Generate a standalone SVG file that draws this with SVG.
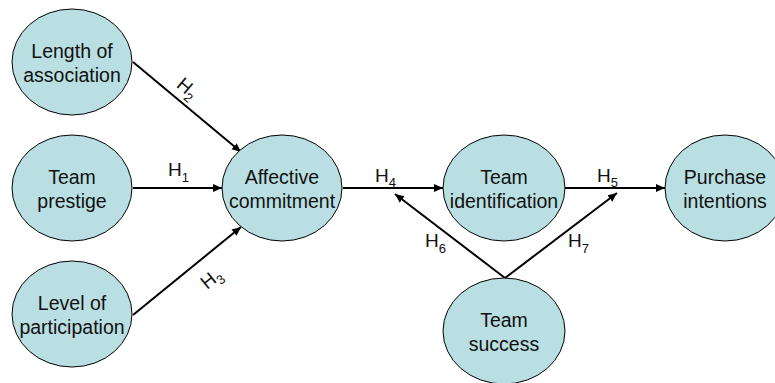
<svg xmlns="http://www.w3.org/2000/svg" width="775" height="383" viewBox="0 0 775 383">
  <defs>
    <marker id="arrow" markerUnits="userSpaceOnUse" markerWidth="10" markerHeight="10" refX="9" refY="5" orient="auto">
      <path d="M0,1 L9,5 L0,9 Z" fill="#000"/>
    </marker>
  </defs>
  <style>
    .node ellipse { fill: #B9DFE2; stroke: #000; stroke-width: 1; }
    .node text { font-family: "Liberation Sans", Arial, sans-serif; font-size: 19.5px; fill: #111; text-anchor: middle; }
    .edge { stroke: #000; stroke-width: 2; fill: none; marker-end: url(#arrow); }
    .lbl { font-family: "Liberation Sans", Arial, sans-serif; font-size: 19px; fill: #111; }
    .sub { font-size: 13px; }
  </style>
  <rect width="775" height="383" fill="#fff"/>

  <!-- connectors -->
  <g id="connectors">
    <line class="edge" x1="133" y1="62" x2="241" y2="152"/>
    <line class="edge" x1="133" y1="188" x2="222" y2="188"/>
    <line class="edge" x1="133" y1="315" x2="241" y2="227"/>
    <line class="edge" x1="343" y1="188" x2="443" y2="188"/>
    <line class="edge" x1="565" y1="188" x2="665" y2="188"/>
    <line class="edge" x1="505" y1="278" x2="395" y2="194"/>
    <line class="edge" x1="505" y1="278" x2="617" y2="193"/>

    <!-- hypothesis labels -->
    <g transform="translate(187,88) rotate(40)">
      <text class="lbl" x="-10" y="6">H<tspan class="sub" dy="5">2</tspan></text>
    </g>
    <text class="lbl" x="168" y="176">H<tspan class="sub" dy="6">1</tspan></text>
    <g transform="translate(211,279) rotate(-39)">
      <text class="lbl" x="-10" y="6">H<tspan class="sub" dy="5">3</tspan></text>
    </g>
    <text class="lbl" x="375" y="182">H<tspan class="sub" dy="5">4</tspan></text>
    <text class="lbl" x="597" y="182">H<tspan class="sub" dy="5">5</tspan></text>
    <text class="lbl" x="425" y="247">H<tspan class="sub" dy="6">6</tspan></text>
    <text class="lbl" x="568" y="247">H<tspan class="sub" dy="6">7</tspan></text>
  </g>

  <!-- nodes -->
  <g id="length-of-association" class="node">
    <ellipse cx="72" cy="62" rx="60" ry="53"/>
    <text x="72" y="58">Length of</text>
    <text x="72" y="82">association</text>
  </g>
  <g id="team-prestige" class="node">
    <ellipse cx="72" cy="188" rx="60" ry="53"/>
    <text x="72" y="184">Team</text>
    <text x="72" y="208">prestige</text>
  </g>
  <g id="level-of-participation" class="node">
    <ellipse cx="72" cy="314" rx="60" ry="53"/>
    <text x="72" y="310">Level of</text>
    <text x="72" y="334">participation</text>
  </g>
  <g id="affective-commitment" class="node">
    <ellipse cx="282" cy="188" rx="60" ry="53"/>
    <text x="282" y="184">Affective</text>
    <text x="282" y="208">commitment</text>
  </g>
  <g id="team-identification" class="node">
    <ellipse cx="504" cy="188" rx="61" ry="53"/>
    <text x="504" y="184">Team</text>
    <text x="504" y="208">identification</text>
  </g>
  <g id="purchase-intentions" class="node">
    <ellipse cx="725" cy="188" rx="60" ry="53"/>
    <text x="725" y="184">Purchase</text>
    <text x="725" y="208">intentions</text>
  </g>
  <g id="team-success" class="node">
    <ellipse cx="504" cy="331" rx="61" ry="53"/>
    <text x="504" y="327">Team</text>
    <text x="504" y="351">success</text>
  </g>
</svg>
